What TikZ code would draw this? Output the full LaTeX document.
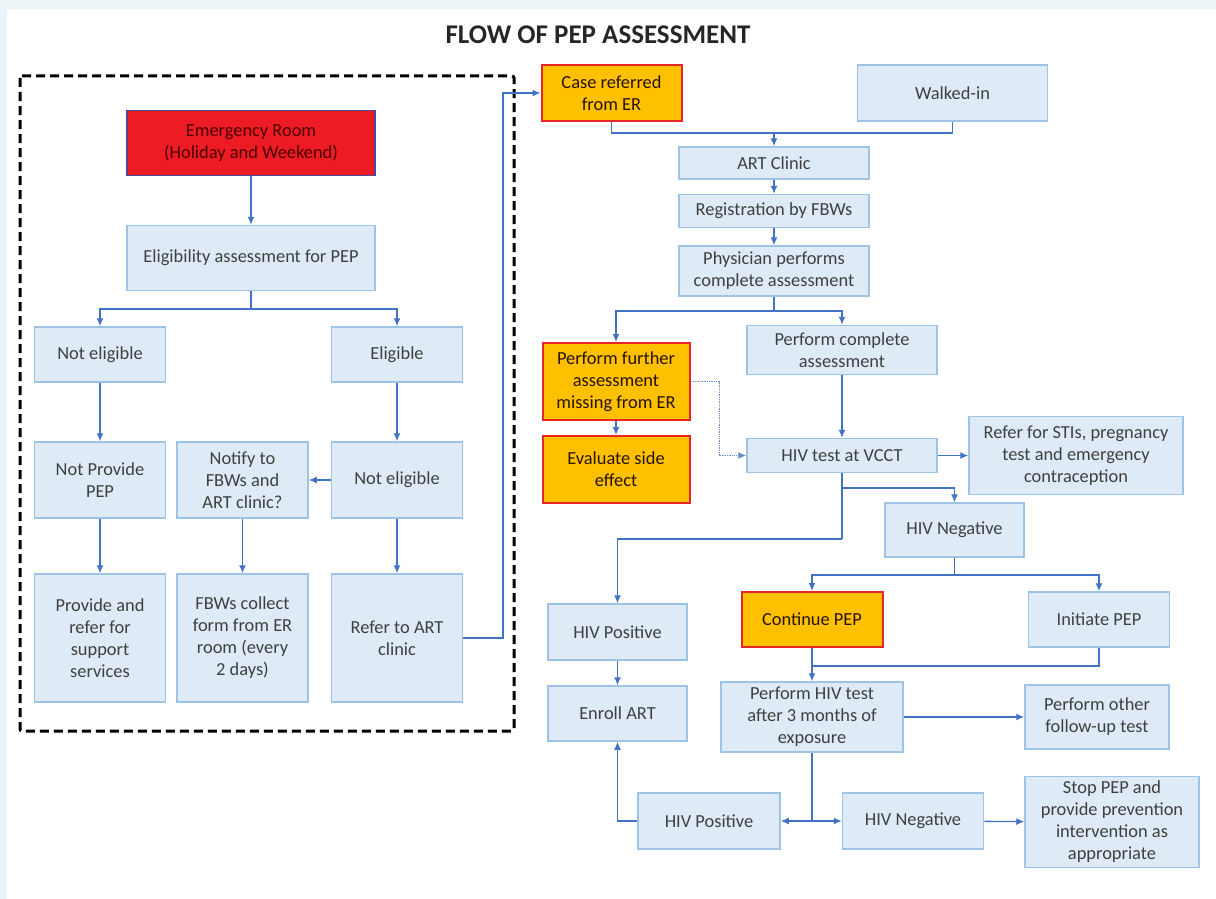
\documentclass[tikz,border=0pt]{standalone}
\usepackage{fontspec}
\setmainfont{Carlito}
\usetikzlibrary{arrows.meta,calc}
\definecolor{boxfill}{HTML}{DEEBF7}
\definecolor{boxedge}{HTML}{9DC3E6}
\definecolor{linkblue}{HTML}{4472C4}
\definecolor{hotfill}{HTML}{FFC000}
\definecolor{hotedge}{HTML}{E8262A}
\definecolor{erfill}{HTML}{ED1C24}
\definecolor{eredge}{HTML}{4A4A9C}
\definecolor{textgrey}{HTML}{3F3F3F}
\definecolor{pagetint}{HTML}{EBF5F8}
\tikzstyle{block} = [rectangle, draw=boxedge, fill=boxfill, line width=1.5pt, align=center, text=textgrey, inner sep=0pt, font=\fontsize{18.4}{22}\selectfont]
\tikzstyle{hotblock} = [block, draw=hotedge, fill=hotfill, line width=2pt, text=black!85!orange]
\tikzstyle{erblock} = [block, draw=eredge, fill=erfill, line width=1.2pt, text=black!70!red]
\tikzstyle{line} = [draw=linkblue, line width=1.3pt, -{Latex[length=8pt,width=7pt]}]
\tikzstyle{joint} = [draw=linkblue, line width=1.3pt]
\tikzset{sz/.style 2 args={minimum width=#1pt, minimum height=#2pt}}
\begin{document}
\begin{tikzpicture}[x=1pt, y=-1pt]
\fill[pagetint] (0,0) rectangle (1216,899);
\fill[white] (7,9) rectangle (1216,899);
\useasboundingbox (0,0) rectangle (1216,899);
\node [font=\fontsize{27}{32}\selectfont\bfseries, text=black!85] (title) at (598,35) {FLOW OF PEP ASSESSMENT};
\draw [black, line width=3pt, dash pattern=on 9pt off 5pt, rounded corners=2pt] (20,76) rectangle (514,731);

\node [erblock, sz={248}{65}] (er) at (251,143) {Emergency Room\\(Holiday and Weekend)};
\node [block, sz={248}{65}] (assess) at (251,258) {Eligibility assessment for PEP};
\node [block, sz={131}{55}] (noteligA) at (100,354.5) {Not eligible};
\node [block, sz={131}{55}] (eligible) at (397,354.5) {Eligible};
\node [block, sz={131}{76}] (noprovide) at (100,480) {Not Provide\\PEP};
\node [block, sz={131}{76}] (notify) at (242.5,480) {Notify to\\FBWs and\\ART clinic?};
\node [block, sz={131}{76}] (noteligB) at (397,480) {Not eligible};
\node [block, sz={131}{128}] (support) at (100,638) {Provide and\\refer for\\support\\services};
\node [block, sz={131}{128}] (collect) at (242.5,638) {FBWs collect\\form from ER\\room (every\\2 days)};
\node [block, sz={131}{128}] (referart) at (397,638) {Refer to ART\\clinic};

\node [hotblock, sz={140}{56}] (fromer) at (611.5,93) {Case referred\\from ER};
\node [block, sz={190}{56}] (walkin) at (952.5,93) {Walked-in};
\node [block, sz={190}{32}] (artclinic) at (774,163) {ART Clinic};
\node [block, sz={190}{33}] (register) at (774,211) {Registration by FBWs};
\node [block, sz={190}{50}] (physician) at (774,271) {Physician performs\\complete assessment};
\node [hotblock, sz={147}{77}] (further) at (616,381.5) {Perform further\\assessment\\missing from ER};
\node [block, sz={190}{49}] (complete) at (842,350) {Perform complete\\assessment};
\node [hotblock, sz={147}{67}] (sideeffect) at (616,469.5) {Evaluate side\\effect};
\node [block, sz={190}{34}] (vcct) at (842,455.5) {HIV test at VCCT};
\node [block, sz={214}{78}] (referSTI) at (1076,455.5) {Refer for STIs, pregnancy\\test and emergency\\contraception};
\node [block, sz={139}{54}] (negA) at (954.5,530) {HIV Negative};
\node [block, sz={139}{56}] (posA) at (617.5,632) {HIV Positive};
\node [hotblock, sz={141}{55}] (continuepep) at (812,619.5) {Continue PEP};
\node [block, sz={141}{55}] (initiate) at (1099,619.5) {Initiate PEP};
\node [block, sz={139}{55}] (enroll) at (617.5,713.5) {Enroll ART};
\node [block, sz={182}{70}] (threemonth) at (812,717) {Perform HIV test\\after 3 months of\\exposure};
\node [block, sz={144}{64}] (followup) at (1097,717) {Perform other\\follow-up test};
\node [block, sz={142}{56}] (posB) at (709,821) {HIV Positive};
\node [block, sz={141}{56}] (negB) at (913,821) {HIV Negative};
\node [block, sz={174}{91}] (stoppep) at (1112,822) {Stop PEP and\\provide prevention\\intervention as\\appropriate};

\coordinate (splitA) at (251,309);
\path [line] (er) -- (assess);
\draw [joint] (assess.south) -- (splitA);
\path [line] (splitA) -| (noteligA.north);
\path [line] (splitA) -| (eligible.north);
\path [line] (noteligA) -- (noprovide);
\path [line] (noprovide) -- (support);
\path [line] (eligible) -- (noteligB);
\path [line] (noteligB) -- (notify);
\path [line] (notify) -- (collect);
\path [line] (noteligB) -- (referart);
\coordinate (up) at (503,93);
\path [line] (referart.east) -| (up) -- (fromer.west);

\coordinate (joinA) at (774,133);
\draw [joint] (fromer.south) |- (joinA);
\draw [joint] (walkin.south) |- (joinA);
\path [line] (joinA) -- (artclinic.north);
\path [line] (artclinic) -- (register);
\path [line] (register) -- (physician);
\coordinate (splitB) at (774,311);
\draw [joint] (physician.south) -- (splitB);
\path [line] (splitB) -| (further.north);
\path [line] (splitB) -| (complete.north);
\path [line] (further) -- (sideeffect);
\coordinate (dotbend) at (719,455.5);
\path [line, draw=linkblue!80, densely dotted, line width=1pt] (further.east) -| (dotbend) -- (vcct.west);
\path [line] (complete) -- (vcct);
\path [line] (vcct) -- (referSTI);
\coordinate (splitC) at (842,488);
\coordinate (splitD) at (842,539);
\draw [joint] (vcct.south) -- (splitD);
\path [line] (splitC) -| (negA.north);
\path [line] (splitD) -| (posA.north);
\coordinate (splitE) at (954.5,575);
\draw [joint] (negA.south) -- (splitE);
\path [line] (splitE) -| (continuepep.north);
\path [line] (splitE) -| (initiate.north);
\path [line] (posA) -- (enroll);
\coordinate (joinB) at (812,666);
\draw [joint] (initiate.south) |- (joinB);
\path [line] (continuepep) -- (threemonth);
\path [line] (threemonth) -- (followup);
\coordinate (splitF) at (812,821);
\draw [joint] (threemonth.south) -- (splitF);
\path [line] (splitF) -- (posB.east);
\path [line] (splitF) -- (negB.west);
\path [line] (negB) -- (stoppep);
\path [line] (posB.west) -| (enroll.south);
\end{tikzpicture}
\end{document}
